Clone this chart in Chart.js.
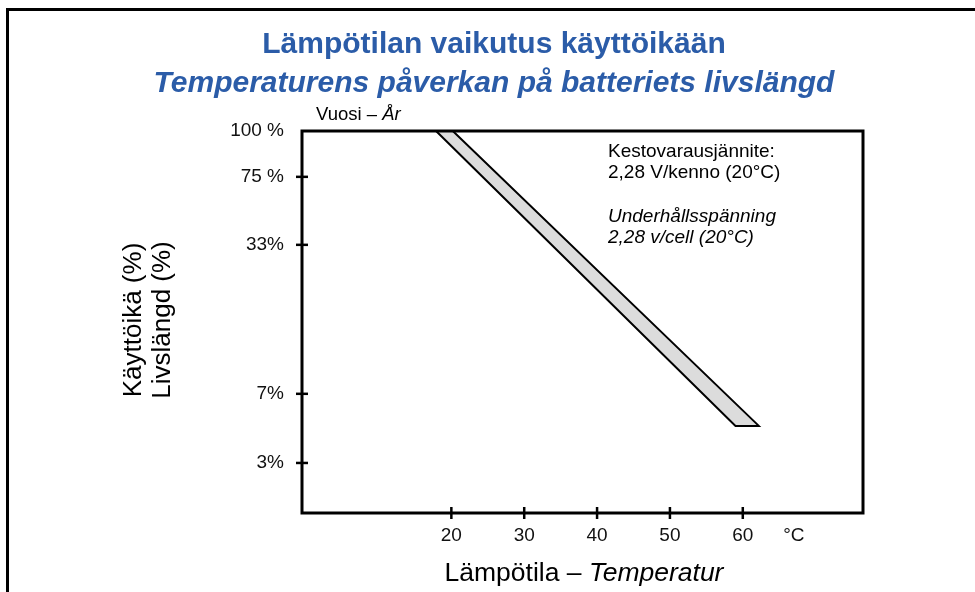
<!DOCTYPE html>
<html><head><meta charset="utf-8">
<script src="https://cdn.jsdelivr.net/npm/chart.js@4"></script>
<style>html,body{margin:0;padding:0;background:#fff}#wrap{width:975px;height:592px;position:relative}</style>
</head><body><div id="wrap"><canvas id="c" width="975" height="592"></canvas></div>
<script>
// ---- data ----
const titleLines = ['Lämpötilan vaikutus käyttöikään', 'Temperaturens påverkan på batteriets livslängd'];
const xTickValues = [20, 30, 40, 50, 60];
const xUnitPosition = 67;
const xUnitLabel = '°C';
const yTickPositions = [100, 88, 70.2, 31.2, 13.1];
const yTickLabels = ['100 %', '75 %', '33%', '7%', '3%'];
const bandTemps = [17.9, 20.2, 62.2, 59.0];
const bandLife = [100, 100, 22.8, 22.8];
const yTitleLines = ['Käyttöikä (%)', 'Livslängd (%)'];
const xTitleParts = ['Lämpötila – ', 'Temperatur'];
const topLabelParts = ['Vuosi – ', 'År'];
const noteLinesFi = ['Kestovarausjännite:', '2,28 V/kenno (20°C)'];
const noteLinesSv = ['Underhållsspänning', '2,28 v/cell (20°C)'];

const FONT = '"Liberation Sans", Arial, Helvetica, sans-serif';
Chart.defaults.font.family = FONT;

const bandPoints = bandTemps.map((t, i) => ({x: t, y: bandLife[i]}));
bandPoints.push({x: bandTemps[0], y: bandLife[0]});

const decor = {
  id: 'decor',
  afterDraw(chart) {
    const ctx = chart.ctx, a = chart.chartArea;
    const xs = chart.scales.x, ys = chart.scales.y;
    ctx.save();
    // outer frame
    ctx.strokeStyle = '#000'; ctx.lineWidth = 3;
    ctx.beginPath(); ctx.moveTo(7.5, 600); ctx.lineTo(7.5, 9.5); ctx.lineTo(980, 9.5); ctx.stroke();
    // plot frame
    ctx.lineWidth = 3;
    ctx.strokeRect(a.left, a.top, a.right - a.left, a.bottom - a.top);
    // ticks
    ctx.lineWidth = 2.5;
    xTickValues.forEach(v => {
      const px = xs.getPixelForValue(v);
      ctx.beginPath(); ctx.moveTo(px, a.bottom - 6); ctx.lineTo(px, a.bottom + 6); ctx.stroke();
    });
    yTickPositions.forEach(v => {
      if (v >= 100) return;
      const py = ys.getPixelForValue(v);
      ctx.beginPath(); ctx.moveTo(a.left - 6, py); ctx.lineTo(a.left + 6, py); ctx.stroke();
    });
    // title
    ctx.fillStyle = '#2b5ca8';
    ctx.textAlign = 'center'; ctx.textBaseline = 'alphabetic';
    ctx.font = 'bold 30px ' + FONT;
    ctx.fillText(titleLines[0], 494, 53);
    ctx.font = 'italic bold 30px ' + FONT;
    ctx.fillText(titleLines[1], 494, 92);
    // top label
    ctx.fillStyle = '#000';
    ctx.textAlign = 'left';
    ctx.font = '18.5px ' + FONT;
    ctx.fillText(topLabelParts[0], 316, 120);
    let w = ctx.measureText(topLabelParts[0]).width;
    ctx.font = 'italic 18.5px ' + FONT;
    ctx.fillText(topLabelParts[1], 316 + w, 120);
    // notes
    ctx.font = '19px ' + FONT;
    ctx.fillText(noteLinesFi[0], 608, 157);
    ctx.fillText(noteLinesFi[1], 608, 178);
    ctx.font = 'italic 19px ' + FONT;
    ctx.fillText(noteLinesSv[0], 608, 222);
    ctx.fillText(noteLinesSv[1], 608, 243);
    // x title
    ctx.font = '26.5px ' + FONT;
    const w1 = ctx.measureText(xTitleParts[0]).width;
    ctx.font = 'italic 26.5px ' + FONT;
    const w2 = ctx.measureText(xTitleParts[1]).width;
    const x0 = 584 - (w1 + w2) / 2;
    ctx.font = '26.5px ' + FONT;
    ctx.fillText(xTitleParts[0], x0, 581);
    ctx.font = 'italic 26.5px ' + FONT;
    ctx.fillText(xTitleParts[1], x0 + w1, 581);
    // y title
    ctx.translate(0, 320);
    ctx.rotate(-Math.PI / 2);
    ctx.textAlign = 'center';
    ctx.font = '26px ' + FONT;
    ctx.fillText(yTitleLines[0], 0, 141);
    ctx.fillText(yTitleLines[1], 0, 170);
    ctx.restore();
  }
};

new Chart(document.getElementById('c'), {
  type: 'line',
  data: {
    datasets: [{
      label: 'Käyttöikä',
      data: bandPoints,
      borderColor: '#000',
      borderWidth: 2,
      backgroundColor: '#dcdcdc',
      fill: 'shape',
      pointRadius: 0,
      tension: 0,
      clip: false
    }]
  },
  options: {
    responsive: false,
    devicePixelRatio: 1,
    animation: false,
    layout: {padding: {top: 131, right: 112, left: 0, bottom: 0}},
    plugins: {legend: {display: false}, tooltip: {enabled: false}, title: {display: false}},
    scales: {
      x: {
        type: 'linear', min: -0.5, max: 76.5,
        grid: {display: false, drawTicks: false},
        border: {display: false},
        afterBuildTicks: s => { s.ticks = xTickValues.concat([xUnitPosition]).map(v => ({value: v})); },
        afterFit: s => { s.height = 79; },
        ticks: {
          color: '#111', font: {size: 19}, padding: 11, maxRotation: 0, autoSkip: false,
          callback: v => v === xUnitPosition ? xUnitLabel : String(v)
        }
      },
      y: {
        type: 'linear', min: 0, max: 100,
        grid: {display: false, drawTicks: false},
        border: {display: false},
        afterBuildTicks: s => { s.ticks = yTickPositions.map(v => ({value: v})); },
        afterFit: s => { s.width = 302; },
        ticks: {
          color: '#111', font: {size: 19}, padding: 18, autoSkip: false,
          callback: v => yTickLabels[yTickPositions.indexOf(v)]
        }
      }
    }
  },
  plugins: [decor]
});
</script>
</body></html>
